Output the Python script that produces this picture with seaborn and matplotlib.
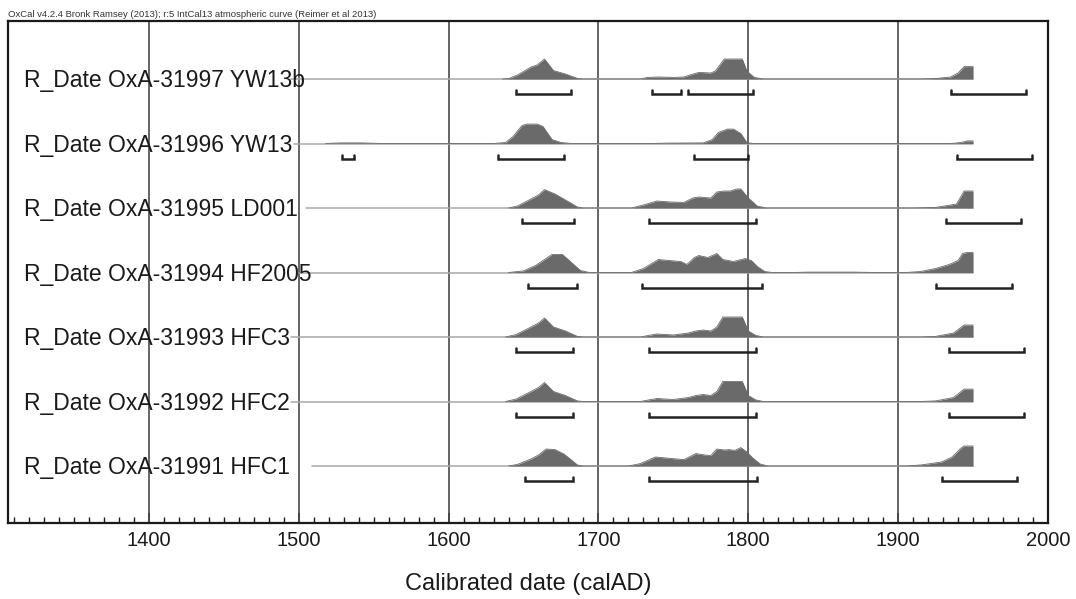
import numpy as np
import pandas as pd
import matplotlib
matplotlib.use("Agg")
import matplotlib.pyplot as plt
import seaborn as sns

# sample labels, top to bottom
labels = [
    "R_Date OxA-31997 YW13b",
    "R_Date OxA-31996 YW13",
    "R_Date OxA-31995 LD001",
    "R_Date OxA-31994 HF2005",
    "R_Date OxA-31993 HFC3",
    "R_Date OxA-31992 HFC2",
    "R_Date OxA-31991 HFC1",
]

# start of the calibrated range for each sample (calAD); all end at 1950
line_start = [1495, 1497, 1505, 1500, 1495, 1495, 1509]
line_end = 1950

# relative probability (year, prob) knots
yw13b_years = [1636, 1640, 1646, 1655, 1659, 1664, 1670, 1678, 1686, 1690,
               1728, 1733, 1740, 1750, 1757, 1761, 1767, 1775, 1778, 1784, 1796, 1799, 1804, 1810,
               1915, 1926, 1935, 1940, 1944, 1950]
yw13b_prob = [0, 0.02, 0.2, 0.6, 0.7, 1.0, 0.42, 0.25, 0.03, 0,
              0, 0.08, 0.1, 0.08, 0.1, 0.2, 0.33, 0.3, 0.4, 1.0, 1.0, 0.4, 0.08, 0,
              0, 0.03, 0.1, 0.3, 0.62, 0.62]

yw13_years = [1518, 1528, 1542, 1556,
              1630, 1638, 1643, 1649, 1652, 1659, 1663, 1669, 1675, 1682,
              1735, 1745, 1770, 1776, 1780, 1786, 1790, 1795, 1799, 1803,
              1935, 1942, 1946, 1950]
yw13_prob = [0, 0.03, 0.03, 0,
             0, 0.05, 0.35, 0.9, 0.97, 0.97, 0.85, 0.2, 0.05, 0,
             0, 0.02, 0.03, 0.2, 0.55, 0.72, 0.72, 0.5, 0.05, 0,
             0, 0.05, 0.13, 0.13]

ld001_years = [1640, 1646, 1655, 1660, 1664, 1671, 1678, 1686, 1690,
               1722, 1730, 1739, 1748, 1757, 1763, 1767, 1775, 1779, 1784, 1788, 1792, 1795, 1800, 1806, 1812,
               1910, 1925, 1935, 1939, 1944, 1950]
ld001_prob = [0, 0.1, 0.45, 0.65, 0.92, 0.7, 0.4, 0.05, 0,
              0, 0.15, 0.35, 0.3, 0.28, 0.5, 0.55, 0.5, 0.8, 0.85, 0.85, 0.95, 0.95, 0.5, 0.1, 0,
              0, 0.03, 0.15, 0.2, 0.85, 0.85]

hf2005_years = [1640, 1650, 1658, 1663, 1669, 1676, 1682, 1688, 1694,
                1722, 1730, 1740, 1750, 1755, 1759, 1764, 1767, 1773, 1776, 1779, 1783, 1790, 1798,
                1802, 1806, 1811, 1816,
                1830, 1840, 1870, 1885,
                1905, 1915, 1925, 1934, 1940, 1943, 1946, 1950]
hf2005_prob = [0, 0.08, 0.35, 0.6, 0.9, 0.9, 0.5, 0.1, 0,
               0, 0.2, 0.65, 0.58, 0.55, 0.4, 0.75, 0.85, 0.75, 0.85, 0.95, 0.65, 0.55, 0.7,
               0.6, 0.3, 0.05, 0,
               0, 0.02, 0.02, 0,
               0, 0.05, 0.2, 0.4, 0.6, 0.95, 1.0, 1.0]

hfc3_years = [1638, 1645, 1655, 1660, 1664, 1670, 1678, 1686, 1690,
              1728, 1735, 1739, 1750, 1760, 1765, 1770, 1775, 1779, 1783, 1796, 1800, 1805, 1810,
              1915, 1925, 1937, 1944, 1950]
hfc3_prob = [0, 0.12, 0.5, 0.7, 0.95, 0.5, 0.3, 0.03, 0,
             0, 0.1, 0.15, 0.1, 0.2, 0.3, 0.35, 0.3, 0.5, 1.0, 1.0, 0.3, 0.08, 0,
             0, 0.03, 0.2, 0.6, 0.6]

hfc2_years = [1638, 1645, 1655, 1660, 1664, 1670, 1678, 1686, 1690,
              1728, 1735, 1739, 1750, 1760, 1765, 1770, 1775, 1779, 1783, 1796, 1800, 1805, 1810,
              1915, 1925, 1937, 1944, 1950]
hfc2_prob = [0, 0.12, 0.5, 0.7, 0.95, 0.5, 0.3, 0.03, 0,
             0, 0.1, 0.15, 0.1, 0.2, 0.3, 0.35, 0.3, 0.5, 1.0, 1.0, 0.3, 0.08, 0,
             0, 0.03, 0.2, 0.62, 0.62]

hfc1_years = [1640, 1646, 1655, 1660, 1665, 1671, 1677, 1682, 1686, 1690,
              1720, 1728, 1738, 1748, 1757, 1765, 1771, 1775, 1779, 1784, 1787, 1791, 1795, 1799,
              1803, 1808, 1813,
              1905, 1915, 1929, 1936, 1942, 1944, 1950]
hfc1_prob = [0, 0.08, 0.35, 0.55, 0.85, 0.82, 0.6, 0.3, 0.05, 0,
             0, 0.12, 0.45, 0.38, 0.32, 0.62, 0.55, 0.52, 0.85, 0.8, 0.82, 0.78, 0.92, 0.7,
             0.4, 0.1, 0,
             0, 0.05, 0.2, 0.45, 0.9, 1.0, 1.0]

dens_years = [yw13b_years, yw13_years, ld001_years, hf2005_years, hfc3_years, hfc2_years, hfc1_years]
dens_prob = [yw13b_prob, yw13_prob, ld001_prob, hf2005_prob, hfc3_prob, hfc2_prob, hfc1_prob]

# 95.4% probability ranges
ranges = [
    [(1645, 1682), (1736, 1755), (1760, 1803), (1935, 1985)],
    [(1529, 1537), (1633, 1677), (1764, 1800), (1939, 1989)],
    [(1649, 1684), (1734, 1805), (1932, 1982)],
    [(1653, 1686), (1729, 1809), (1925, 1976)],
    [(1645, 1683), (1734, 1805), (1934, 1984)],
    [(1645, 1683), (1734, 1805), (1934, 1984)],
    [(1651, 1683), (1734, 1806), (1929, 1979)],
]

header = "OxCal v4.2.4 Bronk Ramsey (2013); r:5 IntCal13 atmospheric curve (Reimer et al 2013)"
xlabel = "Calibrated date (calAD)"

sns.set_style("white")
plt.rcParams['font.family'] = ['Liberation Sans', 'DejaVu Sans']

fig = plt.figure(figsize=(10.76, 5.99), dpi=100)
ax = fig.add_axes([8 / 1076, 76 / 599, 1040 / 1076, 502 / 599])

xmin, xmax = 1306, 2000
ax.set_xlim(xmin, xmax)
ax.set_ylim(6 + 57 / 64.5, -58 / 64.5)

peak_h = 20 / 64.5     # height of a full-probability peak (row units)
br_off = 15 / 64.5     # bracket distance below the baseline
br_tick = 4 / 64.5

# grid lines at each century
for yr in range(1400, 2000, 100):
    ax.axvline(yr, color='#4a4a4a', lw=1.2, zorder=1)

# long table for the density outlines
frames = []
for i, (yrs, pr) in enumerate(zip(dens_years, dens_prob)):
    frames.append(pd.DataFrame({'year': yrs, 'prob': pr, 'row': i}))
dens = pd.concat(frames, ignore_index=True)
dens['top'] = dens['row'] - dens['prob'] * peak_h

for i, lab in enumerate(labels):
    # baseline of the distribution
    ax.plot([line_start[i], line_end], [i, i], color='#a8a8a8', lw=1.1, zorder=2)

    d = dens[dens['row'] == i]
    ax.fill_between(d['year'], i, d['top'], color='#6a6a6a', lw=0, zorder=3)

    for a, b in ranges[i]:
        yb = i + br_off
        ax.plot([a, a, b, b], [yb - br_tick, yb, yb, yb - br_tick],
                color='#222222', lw=1.8, solid_joinstyle='miter', zorder=4)

    ax.annotate(lab, (1317, i), xytext=(0, -5.8), textcoords='offset points',
                fontsize=16.5, color='#1a1a1a', va='baseline', ha='left', zorder=5)

sns.lineplot(data=dens, x='year', y='top', units='row', estimator=None,
             color='#6a6a6a', lw=0.6, ax=ax, zorder=3, legend=False)

ax.set_yticks([])
ax.set_ylabel('')
ax.set_xticks(range(1400, 2001, 100))
ax.set_xticks(range(1310, 2000, 10), minor=True)
ax.tick_params(axis='x', which='major', direction='in', length=7, width=1.2,
               labelsize=14.5, pad=6, colors='#1a1a1a', bottom=True)
ax.tick_params(axis='x', which='minor', direction='in', length=4, width=1.0,
               bottom=True, colors='#1a1a1a')
ax.set_xlabel(xlabel, fontsize=17, labelpad=16, color='#1a1a1a')

for sp in ax.spines.values():
    sp.set_visible(True)
    sp.set_color('#1a1a1a')
    sp.set_linewidth(1.6)

fig.text(8 / 1076, 1 - 17 / 599, header, fontsize=6.8, color='#333333',
         ha='left', va='baseline')

fig.savefig('out.png', dpi=100)
